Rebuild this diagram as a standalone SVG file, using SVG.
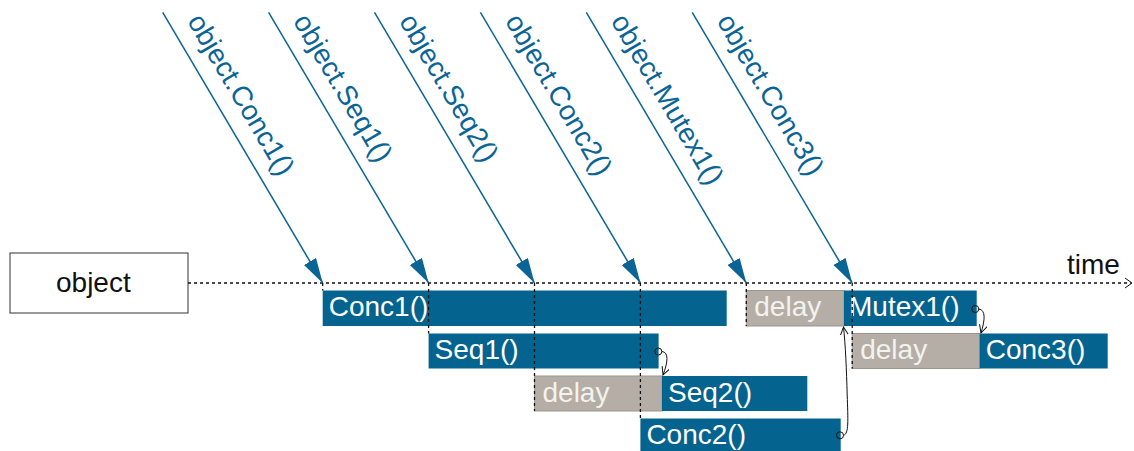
<svg xmlns="http://www.w3.org/2000/svg" width="1134" height="451" viewBox="0 0 1134 451">
  <style>
    .lbl { font-family: "Liberation Sans", Arial, sans-serif; font-size: 28px; }
    .call { fill: #0a6496; }
    .act { fill: #04638f; }
    .dly { fill: #b4aea6; stroke: #9c958c; stroke-width: 1; }
    .wt { fill: #ffffff; }
    .dt { fill: #f4f2ee; }
    .blk { fill: #111111; }
    .msg { stroke: #0a6496; stroke-width: 1.5; fill: none; marker-end: url(#tri); }
    .dash { stroke: #111111; stroke-width: 1.3; stroke-dasharray: 3 3; fill: none; }
    .hop { stroke: #111111; stroke-width: 1; fill: none; }
  </style>
  <defs>
    <marker id="tri" markerUnits="userSpaceOnUse" markerWidth="26" markerHeight="16" refX="25" refY="7" orient="auto">
      <path d="M0,0 L25,7 L0,14 Z" fill="#0a6496"/>
    </marker>
    <marker id="vee" markerUnits="userSpaceOnUse" markerWidth="10" markerHeight="10" refX="8" refY="4" orient="auto">
      <path d="M0,0 L8,4 L0,8" fill="none" stroke="#111111" stroke-width="1"/>
    </marker>
  </defs>

  <rect width="1134" height="451" fill="#ffffff"/>

  <!-- the object -->
  <g id="object">
    <rect x="10" y="253" width="178" height="60" fill="#ffffff" stroke="#333333" stroke-width="1"/>
    <text class="lbl blk" x="56" y="292">object</text>
  </g>

  <!-- activity bars -->
  <g id="conc1">
    <rect class="act" x="322.7" y="290.5" width="404" height="35.5"/>
    <text class="lbl wt" x="328.7" y="316">Conc1()</text>
  </g>
  <g id="seq1">
    <rect class="act" x="428.6" y="333.5" width="230" height="35"/>
    <text class="lbl wt" x="434.6" y="359">Seq1()</text>
  </g>
  <g id="delay-seq2">
    <rect class="dly" x="534.5" y="376" width="127.5" height="35"/>
    <text class="lbl dt" x="542.5" y="401.5">delay</text>
  </g>
  <g id="seq2">
    <rect class="act" x="662" y="376" width="145.3" height="35"/>
    <text class="lbl wt" x="668" y="401.5">Seq2()</text>
  </g>
  <g id="conc2">
    <rect class="act" x="640.4" y="418.5" width="200.3" height="35"/>
    <text class="lbl wt" x="646.4" y="444">Conc2()</text>
  </g>
  <g id="delay-mutex1">
    <rect class="dly" x="746.3" y="290.5" width="97.7" height="35.5"/>
    <text class="lbl dt" x="754.3" y="316">delay</text>
  </g>
  <g id="mutex1">
    <rect class="act" x="844" y="290.5" width="132.7" height="35.5"/>
    <text class="lbl wt" x="849" y="316">Mutex1()</text>
  </g>
  <g id="delay-conc3">
    <rect class="dly" x="852.2" y="333.5" width="127.5" height="35"/>
    <text class="lbl dt" x="860.2" y="359">delay</text>
  </g>
  <g id="conc3">
    <rect class="act" x="979.7" y="333.5" width="128" height="35"/>
    <text class="lbl wt" x="985.7" y="359">Conc3()</text>
  </g>

  <!-- call labels along the incoming messages -->
  <g id="call-labels">
    <text class="lbl call" transform="translate(186.7,21) rotate(59.41)">object.Conc1()</text>
    <text class="lbl call" transform="translate(292.6,21) rotate(59.41)">object.Seq1()</text>
    <text class="lbl call" transform="translate(398.5,21) rotate(59.41)">object.Seq2()</text>
    <text class="lbl call" transform="translate(504.4,21) rotate(59.41)">object.Conc2()</text>
    <text class="lbl call" transform="translate(610.3,21) rotate(59.41)">object.Mutex1()</text>
    <text class="lbl call" transform="translate(716.2,21) rotate(59.41)">object.Conc3()</text>
  </g>

  <g id="connectors">
    <!-- time axis -->
    <line class="dash" x1="188" y1="283" x2="1131" y2="283"/>
    <polyline points="1125,278 1132,283 1125,288" fill="none" stroke="#111111" stroke-width="1"/>
    <text class="lbl blk" x="1067" y="274">time</text>

    <!-- incoming messages -->
    <line class="msg" x1="162.7" y1="12.3" x2="322.7" y2="283"/>
    <line class="msg" x1="268.6" y1="12.3" x2="428.6" y2="283"/>
    <line class="msg" x1="374.5" y1="12.3" x2="534.5" y2="283"/>
    <line class="msg" x1="480.4" y1="12.3" x2="640.4" y2="283"/>
    <line class="msg" x1="586.3" y1="12.3" x2="746.3" y2="283"/>
    <line class="msg" x1="692.2" y1="12.3" x2="852.2" y2="283"/>

    <!-- arrival drops -->
    <line class="dash" x1="322.7" y1="283" x2="322.7" y2="290.5"/>
    <line class="dash" x1="428.6" y1="283" x2="428.6" y2="333.5"/>
    <line class="dash" x1="534.5" y1="283" x2="534.5" y2="411"/>
    <line class="dash" x1="640.4" y1="283" x2="640.4" y2="418.5"/>
    <line class="dash" x1="746.3" y1="283" x2="746.3" y2="326"/>
    <line class="dash" x1="852.2" y1="283" x2="852.2" y2="368.5"/>

    <!-- completion hand-offs -->
    <circle class="hop" cx="658.3" cy="351.5" r="3.5" fill="none"/>
    <path class="hop" d="M661.8,351.5 C669,352 668,362 663,375" marker-end="url(#vee)"/>
    <circle class="hop" cx="975.3" cy="309" r="3.5" fill="none"/>
    <path class="hop" d="M978.8,309 C986,310 985,320 981,333" marker-end="url(#vee)"/>
    <circle class="hop" cx="840" cy="435.3" r="3.5" fill="none"/>
    <path class="hop" d="M843.5,435.3 C849,434 848,420 847.2,395 C846.5,370 845.5,345 843.5,327" marker-end="url(#vee)"/>
  </g>
</svg>
